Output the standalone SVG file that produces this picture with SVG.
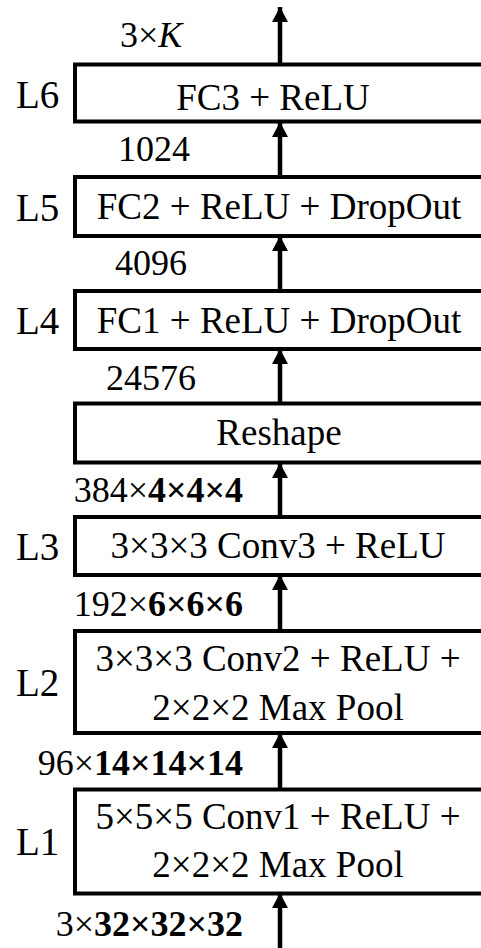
<svg xmlns="http://www.w3.org/2000/svg" width="481" height="948" viewBox="0 0 481 948">
<defs>
<marker id="ah" markerUnits="userSpaceOnUse" viewBox="0 0 16 16" refX="15" refY="8" markerWidth="16" markerHeight="16" orient="auto">
<path d="M0,0 L15,8 L0,16 Z" fill="#000"/>
</marker>
</defs>
<g id="connectors" stroke="#000" stroke-width="4.5" fill="none" marker-end="url(#ah)">
<line x1="280" y1="64" x2="280" y2="7"/>
<line x1="280" y1="177" x2="280" y2="122"/>
<line x1="280" y1="291" x2="280" y2="236"/>
<line x1="280" y1="403" x2="280" y2="349"/>
<line x1="280" y1="517" x2="280" y2="463"/>
<line x1="280" y1="631" x2="280" y2="575"/>
<line x1="280" y1="789" x2="280" y2="733"/>
<line x1="280" y1="948" x2="280" y2="893"/>
</g>
<g id="nodes" fill="#fff" stroke="#000" stroke-width="4">
<rect id="L6-box" x="75" y="64.5" width="420" height="57"/>
<rect id="L5-box" x="75" y="177" width="420" height="59"/>
<rect id="L4-box" x="75" y="291" width="420" height="58"/>
<rect id="Reshape-box" x="75" y="403.5" width="420" height="59"/>
<rect id="L3-box" x="75" y="517" width="420" height="58"/>
<rect id="L2-box" x="75" y="631" width="420" height="102"/>
<rect id="L1-box" x="75" y="789.5" width="420" height="104"/>
</g>
<g id="node-text" font-family="Liberation Serif" font-size="37" text-anchor="middle" fill="#000">
<text font-family="Liberation Serif" x="273" y="110">FC3 + ReLU</text>
<text font-family="Liberation Serif" x="279" y="219">FC2 + ReLU + DropOut</text>
<text font-family="Liberation Serif" x="279" y="333">FC1 + ReLU + DropOut</text>
<text font-family="Liberation Serif" x="279" y="445">Reshape</text>
<text font-family="Liberation Serif" x="278" y="558">3&#215;3&#215;3 Conv3 + ReLU</text>
<text font-family="Liberation Serif" x="278" y="671">3&#215;3&#215;3 Conv2 + ReLU +</text>
<text font-family="Liberation Serif" x="278" y="720">2&#215;2&#215;2 Max Pool</text>
<text font-family="Liberation Serif" x="278" y="829">5&#215;5&#215;5 Conv1 + ReLU +</text>
<text font-family="Liberation Serif" x="278" y="877">2&#215;2&#215;2 Max Pool</text>
</g>
<g id="layer-labels" font-family="Liberation Serif" font-size="39" fill="#000">
<text font-family="Liberation Serif" x="16" y="108">L6</text>
<text font-family="Liberation Serif" x="16" y="221">L5</text>
<text font-family="Liberation Serif" x="16" y="334">L4</text>
<text font-family="Liberation Serif" x="16" y="560">L3</text>
<text font-family="Liberation Serif" x="16" y="696">L2</text>
<text font-family="Liberation Serif" x="16" y="855">L1</text>
</g>
<g id="dims" font-family="Liberation Serif" font-size="36" fill="#000">
<text font-family="Liberation Serif" x="120" y="47">3&#215;<tspan font-style="italic">K</tspan></text>
<text font-family="Liberation Serif" x="118" y="161">1024</text>
<text font-family="Liberation Serif" x="115" y="275">4096</text>
<text font-family="Liberation Serif" x="106" y="390">24576</text>
<text font-family="Liberation Serif" x="243" y="502" text-anchor="end">384&#215;<tspan font-weight="bold">4&#215;4&#215;4</tspan></text>
<text font-family="Liberation Serif" x="243" y="616" text-anchor="end">192&#215;<tspan font-weight="bold">6&#215;6&#215;6</tspan></text>
<text font-family="Liberation Serif" x="243" y="775" text-anchor="end">96&#215;<tspan font-weight="bold">14&#215;14&#215;14</tspan></text>
<text font-family="Liberation Serif" x="243" y="936" text-anchor="end">3&#215;<tspan font-weight="bold">32&#215;32&#215;32</tspan></text>
</g>
</svg>
